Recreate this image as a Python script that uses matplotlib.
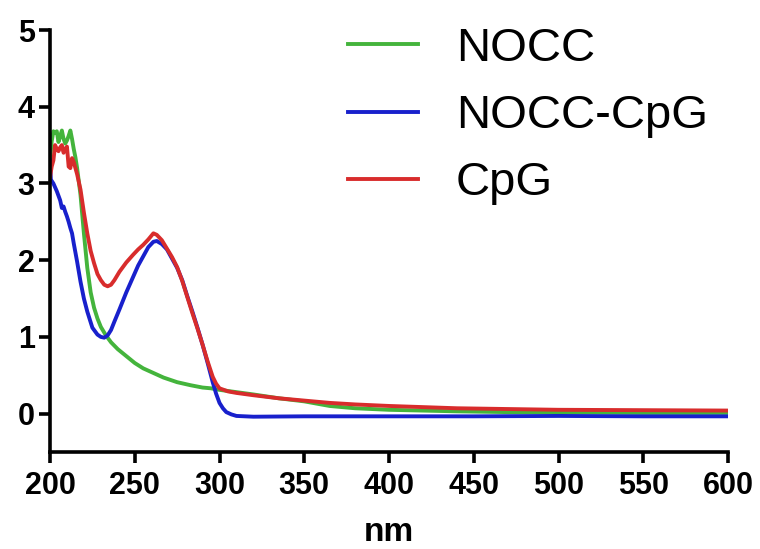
import matplotlib
matplotlib.use("Agg")
import matplotlib.pyplot as plt

plt.rcParams["font.family"] = ["Liberation Sans", "DejaVu Sans"]

# UV-Vis absorbance spectra (wavelength in nm)
nocc_wl = [200, 201, 202, 203, 204, 205, 206, 207, 208, 209, 210, 211, 212, 213,
           214, 215, 216, 218, 220, 222, 224, 226, 228, 230, 233, 236, 240, 245,
           250, 255, 260, 267, 275, 283, 290, 295, 300, 310, 320, 335, 350, 365,
           380, 400, 420, 440, 470, 500, 550, 600]
nocc_abs = [3.30, 3.55, 3.68, 3.66, 3.68, 3.54, 3.62, 3.69, 3.58, 3.52, 3.56, 3.62,
            3.69, 3.58, 3.45, 3.34, 3.20, 2.85, 2.35, 1.90, 1.58, 1.38, 1.24, 1.13,
            1.02, 0.93, 0.84, 0.75, 0.66, 0.59, 0.54, 0.47, 0.41, 0.37, 0.34, 0.33,
            0.31, 0.28, 0.25, 0.20, 0.16, 0.10, 0.07, 0.05, 0.04, 0.03, 0.02, 0.02,
            0.01, 0.01]

nocc_cpg_wl = [200, 200.5, 202, 203, 204, 205, 206, 207, 208, 209, 210, 211, 212,
               213, 214, 216, 218, 220, 222, 225, 228, 230, 232, 234, 236, 238, 241,
               245, 249, 252, 255, 258, 261, 263, 266, 269, 272, 275, 278, 281, 284,
               287, 290, 293, 296, 298, 300, 302, 304, 307, 310, 320, 350, 400, 450,
               500, 550, 600]
nocc_cpg_abs = [3.30, 3.05, 3.00, 2.95, 2.90, 2.84, 2.78, 2.68, 2.70, 2.63, 2.57,
                2.50, 2.42, 2.35, 2.22, 1.98, 1.72, 1.50, 1.33, 1.12, 1.03, 1.00, 0.99,
                1.02, 1.09, 1.20, 1.36, 1.58, 1.78, 1.93, 2.05, 2.17, 2.24, 2.25, 2.21,
                2.14, 2.02, 1.90, 1.74, 1.53, 1.33, 1.12, 0.90, 0.66, 0.41, 0.26, 0.14,
                0.07, 0.02, -0.01, -0.03, -0.04, -0.035, -0.035, -0.035, -0.03, -0.035,
                -0.035]

cpg_wl = [200, 201, 202, 203, 204, 205, 206, 207, 208, 209, 210, 211, 212, 213,
          214, 215, 216, 218, 220, 222, 224, 226, 228, 230, 232, 234, 236, 238, 241,
          245, 249, 252, 255, 258, 261, 263, 266, 269, 272, 275, 278, 281, 284, 287,
          290, 293, 296, 298, 300, 305, 310, 320, 335, 350, 365, 380, 400, 440, 470,
          500, 550, 600]
cpg_abs = [3.08, 3.22, 3.30, 3.50, 3.45, 3.42, 3.47, 3.50, 3.40, 3.45, 3.48, 3.22,
           3.20, 3.33, 3.28, 3.20, 3.12, 2.92, 2.62, 2.35, 2.12, 1.96, 1.82, 1.74,
           1.68, 1.66, 1.68, 1.74, 1.85, 1.97, 2.07, 2.14, 2.20, 2.27, 2.35, 2.33,
           2.26, 2.15, 2.04, 1.91, 1.73, 1.52, 1.31, 1.11, 0.90, 0.68, 0.48, 0.39,
           0.33, 0.29, 0.27, 0.24, 0.20, 0.17, 0.14, 0.12, 0.10, 0.07, 0.06, 0.05,
           0.045, 0.04]

labels = ["NOCC", "NOCC-CpG", "CpG"]
colors = ["#44b43c", "#1820cc", "#d82c2c"]

fig = plt.figure(figsize=(7.6, 5.49), dpi=100)
ax = fig.add_axes([50 / 760, 1 - 452 / 549, 678 / 760, 422 / 549])

ax.plot(nocc_wl, nocc_abs, color=colors[0], lw=2.8, label=labels[0])
ax.plot(nocc_cpg_wl, nocc_cpg_abs, color=colors[1], lw=2.8, label=labels[1])
ax.plot(cpg_wl, cpg_abs, color=colors[2], lw=2.8, label=labels[2])

ax.set_xlim(200, 600)
ax.set_ylim(-0.5, 5)
ax.set_xticks(range(200, 601, 50))
ax.set_yticks(range(0, 6))

for side in ["top", "right"]:
    ax.spines[side].set_visible(False)
for side in ["left", "bottom"]:
    ax.spines[side].set_linewidth(2.6)
    ax.spines[side].set_color("black")

ax.tick_params(axis="both", direction="out", length=8, width=2.6,
               labelsize=22, colors="black")
ax.tick_params(axis="x", pad=6)
ax.tick_params(axis="y", pad=3)
for lab in ax.get_xticklabels() + ax.get_yticklabels():
    lab.set_fontweight("bold")

ax.set_xlabel("nm", fontsize=24, fontweight="bold", labelpad=11)

ax.legend(loc="upper left", bbox_to_anchor=(348 / 760, 1 - 27 / 549),
          bbox_transform=fig.transFigure, frameon=False, fontsize=34,
          handlelength=1.48, handletextpad=0.8, labelspacing=0.49,
          borderpad=0, borderaxespad=0)

fig.savefig("out.png", dpi=100)
